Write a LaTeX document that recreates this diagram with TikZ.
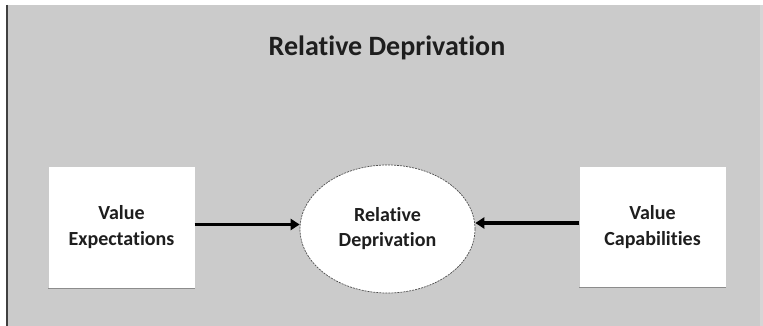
\documentclass[tikz,border=0pt]{standalone}
\usepackage{fontspec}
\setmainfont[Ligatures={NoCommon}]{Carlito}
\usetikzlibrary{shapes.geometric,arrows.meta}
\definecolor{bggray}{HTML}{CBCBCB}
\definecolor{edgegray}{HTML}{D6D6D6}
\definecolor{txt}{HTML}{1E1E1E}
\tikzset{
  x=1pt,y=-1pt,
  boxnode/.style={fill=white,draw=none,minimum width=146pt,minimum height=121pt,inner sep=0pt,
    align=center,font=\fontsize{20}{26}\selectfont\bfseries,text=txt},
  ellnode/.style={ellipse,fill=white,draw=black!70,dashed,dash pattern=on 2pt off 1pt,line width=0.7pt,
    minimum width=175pt,minimum height=128pt,inner sep=0pt,align=center,
    font=\fontsize{20}{25}\selectfont\bfseries,text=txt},
  arr/.style={line width=3.5pt,black,-{Triangle[length=9pt,width=11pt]}},
  shadowline/.style={draw=black!45,line width=1pt}
}
\begin{document}
\begin{tikzpicture}
\useasboundingbox (0,0) rectangle (763,326);
\fill[white] (0,0) rectangle (763,326);
\fill[bggray] (7,5) rectangle (760,326);
\fill[edgegray] (760,5) rectangle (763,326);
\draw[black!75,line width=2pt] (7,5) -- (7,326);
\node[font=\fontsize{28}{32}\selectfont\bfseries,text=txt] (title) at (387,48) {Relative Deprivation};
\node[boxnode] (L) at (121.5,227.5) {Value\\Expectations};
\node[boxnode] (R) at (652.5,227) {Value\\Capabilities};
\node[ellnode] (E) at (387.5,229) {Relative\\Deprivation};
\draw[shadowline] (L.south west) -- (L.south east);
\draw[shadowline] (R.south west) -- (R.south east);
\draw[arr] ([yshift=3pt]L.east) -- ([yshift=3pt]L.east -| E.west);
\draw[arr] ([yshift=4pt]R.west) -- ([yshift=4pt]R.west -| E.east);
\end{tikzpicture}
\end{document}
